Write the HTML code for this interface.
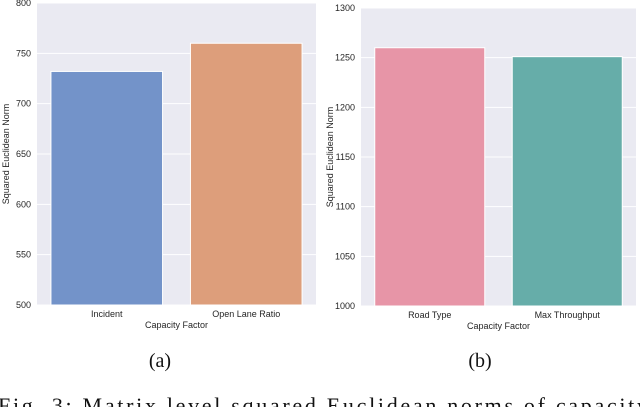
<!DOCTYPE html>
<html><head><meta charset="utf-8"><style>
html,body{margin:0;padding:0;background:#fff;width:640px;height:407px;overflow:hidden}
svg{display:block}
.t{font-family:"Liberation Sans",sans-serif;font-size:9px;fill:#262626}
.cap{font-family:"Liberation Serif",serif;font-size:20px;fill:#111}
.fc{font-family:"Liberation Serif",serif;font-size:22px;fill:#111}
</style></head><body>
<svg id="fig" width="640" height="407">
<text class="cap" x="160" y="367" text-anchor="middle">(a)</text>
<text class="cap" x="480" y="367" text-anchor="middle">(b)</text>
<text class="fc" x="-2" y="413" textLength="650" lengthAdjust="spacing">Fig. 3: Matrix level squared Euclidean norms of capacity</text>
</svg>
<script>
const catsA=["Incident","Open Lane Ratio"];
const valsA=[732,760];
const ticksA=[500,550,600,650,700,750,800];
const catsB=["Road Type","Max Throughput"];
const valsB=[1260,1251];
const ticksB=[1000,1050,1100,1150,1200,1250,1300];
const NS="http://www.w3.org/2000/svg";
const svg=document.getElementById('fig');
function mk(tag,attrs,parent){const e=document.createElementNS(NS,tag);for(const k in attrs)e.setAttribute(k,attrs[k]);(parent||svg).appendChild(e);return e;}
function panel(px,py,pw,ph,cats,vals,ticks,colors,name){
  const g=mk('g',{});
  
  
  const bg=mk('rect',{x:px,y:py,width:pw,height:ph,fill:'#eaeaf2'},g);
  
  
  const mn=ticks[0],mx=ticks[ticks.length-1];
  const y=v=>py+ph-(v-mn)/(mx-mn)*ph;
  ticks.forEach(t=>{
    const l=mk('line',{x1:px,x2:px+pw,y1:y(t),y2:y(t),stroke:'#fff','stroke-width':1},g);
    
    
    const tx=mk('text',{x:px-6,y:y(t)+3,'text-anchor':'end',class:'t'},g);
    tx.textContent=t;
    
    
  });
  const bw=pw/cats.length;
  cats.forEach((c,i)=>{
    const x0=px+bw*i+bw*0.1;
    const b=mk('rect',{x:x0,y:y(vals[i]),width:bw*0.8,height:py+ph-y(vals[i]),fill:colors[i],stroke:'#fff','stroke-width':1},g);
    
    
    const tx=mk('text',{x:px+bw*(i+0.5),y:py+ph+12,'text-anchor':'middle',class:'t'},g);
    tx.textContent=c;
    
    
  });
  const xt=mk('text',{x:px+pw/2,y:py+ph+23,'text-anchor':'middle',class:'t'},g);
  xt.textContent='Capacity Factor';
  
  
  const yt=mk('text',{x:0,y:0,'text-anchor':'middle',class:'t',transform:`translate(${px-28},${py+ph/2}) rotate(-90)`},g);
  yt.textContent='Squared Euclidean Norm';
  
  
}
panel(37,3,279,302,catsA,valsA,ticksA,['#7393c9','#dd9e7b'],'chart-a');
panel(361,8,275,298,catsB,valsB,ticksB,['#e795a7','#66ada9'],'chart-b');
</script>
</body></html>
